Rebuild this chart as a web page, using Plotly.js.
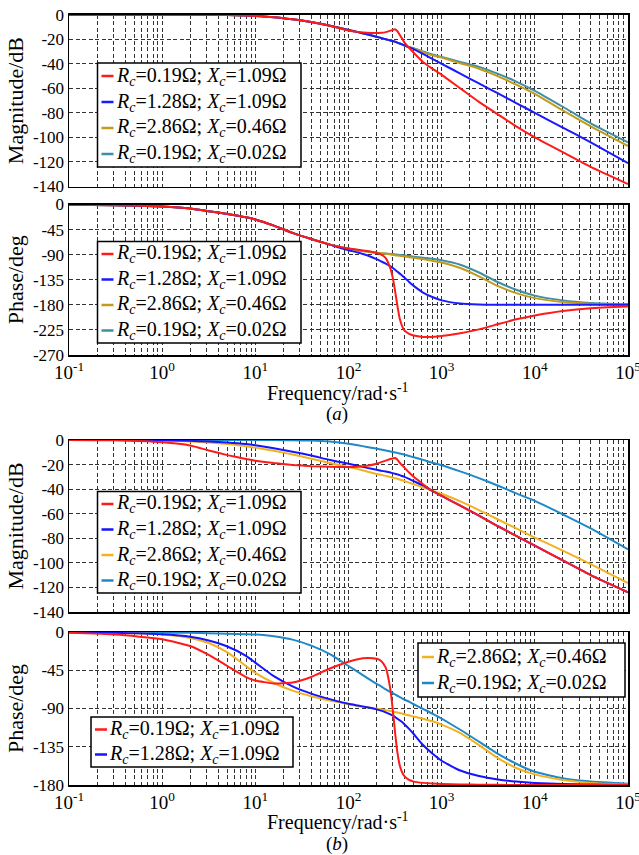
<!DOCTYPE html>
<html><head><meta charset="utf-8">
<script src="https://cdn.plot.ly/plotly-3.0.1.min.js"></script>
<style>html,body{margin:0;padding:0;background:#fff;} #chart{width:639px;height:855px;}</style>
</head><body><div id="chart"></div>
<script>
// ---------------- data ----------------
const freq = [0.1, 0.316, 1, 2.0, 3.16, 5.01, 7.94, 10, 15.8, 25.1, 39.8, 63.1, 100, 126, 158, 200, 224, 251, 282, 299, 316, 335, 355, 376, 398, 447, 501, 631, 794, 1000, 1585, 2512, 3981, 6310, 10000, 19953, 39811, 100000];

// (a) magnitude, dB
const magA_red  = [0,0,0,0,-0.1,-0.3,-0.7,-1,-2,-3.8,-6,-9,-12.8,-14,-14.8,-15,-14.8,-14.2,-13,-12.3,-11.8,-13.5,-16.5,-19.5,-22.5,-27,-31,-38.5,-44,-49,-60,-71,-81,-91,-100,-112,-124,-138];
const magA_blue = [0,0,0,0,-0.1,-0.3,-0.7,-1,-2,-3.8,-6,-9,-12.5,-14.2,-16,-18,-19,-20,-21,-21.5,-22,-22.7,-23.5,-24.2,-25,-26.5,-28,-32,-36,-40,-48,-56,-64,-72,-80,-92,-104,-121];
const magA_gold = [0,0,0,0,-0.1,-0.3,-0.7,-1,-2,-3.8,-6,-9,-12.5,-14.2,-16,-18,-19,-20,-21,-21.5,-22,-22.7,-23.5,-24.2,-25,-26.5,-27.5,-30.5,-33,-35,-39.5,-44,-50,-57,-64.5,-78,-91,-107];
const magA_teal = [0,0,0,0,-0.1,-0.3,-0.7,-1,-2,-3.8,-6,-9,-12.5,-14.2,-16,-18,-19,-20,-21,-21.5,-22,-22.7,-23.5,-24.2,-25,-26.5,-27.3,-30,-32.5,-34.5,-38.5,-42.5,-48,-54.5,-62,-75,-88.5,-104];

// (a) phase, deg
const phA_red  = [-0.5,-1.5,-3.6,-7,-12,-17,-23,-27,-38,-51,-62,-72,-79,-81,-83.5,-87,-90,-96,-115,-132,-155,-182,-205,-218,-226,-232,-235,-237.5,-237.5,-236,-231,-224,-215,-206,-199,-191,-186,-183];
const phA_blue = [-0.5,-1.5,-3.6,-7,-12,-17,-23,-27,-38,-51,-62,-72,-82,-86,-91,-98,-102,-106,-111,-114,-117,-120.5,-124,-127.5,-131,-139,-146,-158,-166,-172,-177.5,-179.3,-179.8,-180,-180,-180,-180,-180];
const phA_gold = [-0.5,-1.5,-3.6,-7,-12,-17,-23,-27,-38,-51,-62,-72,-79,-82,-84.5,-86.5,-87.5,-88.5,-89.5,-90,-91,-91.5,-92,-92.5,-93,-94.5,-95.5,-98,-101,-104,-114,-129,-146,-159,-168,-175,-178,-180];
const phA_teal = [-0.5,-1.5,-3.6,-7,-12,-17,-23,-27,-38,-51,-62,-72,-79,-82,-84.5,-86.5,-87.5,-88,-88.7,-89,-89.5,-90,-90.5,-91,-91.5,-92.5,-93.5,-95.5,-97.5,-100,-108,-122,-139,-153,-163.5,-172,-176.5,-179];

// (b) magnitude, dB
const magB_red  = [0,-0.3,-1.9,-4.5,-8.5,-12.3,-15.5,-16.8,-18.8,-20.3,-21.3,-21.8,-22,-21.8,-21,-19.3,-18,-16.8,-15.5,-15,-14.6,-16,-18.5,-20.5,-22.5,-26.5,-30,-36,-41.5,-45.5,-53.5,-61.5,-70,-78,-86,-98,-110,-124];
const magB_blue = [0,0,-0.3,-0.7,-1.2,-2,-3.3,-4.3,-6.8,-9.5,-12.6,-16.3,-19.3,-21,-22.7,-24.2,-25,-25.7,-26.5,-27,-27.4,-28,-28.6,-29.3,-30,-31.7,-33.5,-37,-41.5,-45.5,-53.5,-61.5,-70,-78,-86,-98,-110,-124];
const magB_gold = [0,0,-0.5,-1.2,-2,-3.3,-5,-6.2,-8.8,-11.8,-15.2,-18.7,-22,-23.7,-25.6,-27.6,-28.4,-29.2,-30.1,-30.6,-31.1,-31.6,-32.2,-32.8,-33.4,-34.7,-36,-38.7,-41.3,-43.8,-50,-57,-64.5,-72,-79.5,-90,-101,-116.5];
const magB_teal = [0,0,0,0,0,0,0,0,-0.1,-0.2,-0.5,-1.3,-3,-4.3,-5.7,-7,-7.8,-8.5,-9.3,-9.7,-10.1,-10.5,-11,-11.4,-11.9,-13,-14,-16.2,-18.5,-20.5,-25.5,-31,-37,-43.5,-49.5,-60.5,-72,-89];

// (b) phase, deg
const phB_red  = [-1,-3,-8.5,-16.5,-27,-40,-53,-57,-60.5,-59.5,-53,-43,-35,-32,-30.5,-31.5,-34,-42,-68,-92,-118,-142,-157,-165,-169.5,-174,-176,-177.5,-178.3,-178.8,-179.3,-179.6,-179.8,-180,-180,-180,-180,-180];
const phB_blue = [-0.3,-1,-2.7,-5.5,-10,-17,-28,-36,-52,-64,-72.5,-79,-84.5,-86.5,-88.5,-91,-92.5,-94.5,-97,-98.5,-100,-102,-104,-106,-108.5,-114,-120,-133,-143,-151.5,-163,-169.5,-173.5,-176,-177.5,-178.8,-179.5,-180];
const phB_gold = [-0.3,-1,-3,-7,-13,-24,-40,-48,-60,-69,-75.5,-80.5,-85,-87,-88.5,-90,-91,-92,-93,-93.5,-94,-94.7,-95.3,-96,-96.7,-98,-99.5,-102,-105,-109,-119,-133,-148,-160,-167.5,-174,-177.5,-179.5];
const phB_teal = [0,-0.2,-0.6,-1,-1.5,-2,-2.6,-3,-5,-9,-16,-26,-40,-47,-54,-61,-64,-67.5,-70.5,-72,-73.5,-75,-76.5,-78,-79.5,-82,-85,-90.5,-96,-102,-115,-129,-143,-155,-164.5,-172,-176,-178.5];

const caseLabels = [
  '<i>R<sub>c</sub></i>=0.19Ω; <i>X<sub>c</sub></i>=1.09Ω',
  '<i>R<sub>c</sub></i>=1.28Ω; <i>X<sub>c</sub></i>=1.09Ω',
  '<i>R<sub>c</sub></i>=2.86Ω; <i>X<sub>c</sub></i>=0.46Ω',
  '<i>R<sub>c</sub></i>=0.19Ω; <i>X<sub>c</sub></i>=0.02Ω'
];
const magTickVals = [0,-20,-40,-60,-80,-100,-120,-140];
const magTickText = ['0','-20','-40','-60','-80','-100','-120','-140'];
const phATickVals = [0,-45,-90,-135,-180,-225,-270];
const phATickText = ['0','-45','-90','-135','-180','-225','-270'];
const phBTickVals = [0,-45,-90,-135,-180];
const phBTickText = ['0','-45','-90','-135','-180'];
const freqTickVals = [0.1,1,10,100,1000,10000,100000];
const freqTickText = ['10<sup>-1</sup>','10<sup>0</sup>','10<sup>1</sup>','10<sup>2</sup>','10<sup>3</sup>','10<sup>4</sup>','10<sup>5</sup>'];
const freqTitle = 'Frequency/rad·s<sup>-1</sup>';

// ---------------- styling ----------------
const colA = ['#ff1a1a','#1a1aff','#c49a1c','#3f8fa3'];
const colB = ['#ff1a1a','#1414ff','#f2b11f','#1f88c8'];
const W = 639, H = 855;
const px = x => x / W;
const py = y => 1 - y / H;
const FONT = 'Liberation Serif';
const GRID = '#333333';
const DASH = '4px,2.5px';

const minorVals = [];
for (let d = -1; d < 5; d++) for (let m = 2; m <= 9; m++) minorVals.push(m * Math.pow(10, d));

function xax(anchor, showLabels) {
  return {
    type: 'log', range: [-1, 5], domain: [px(69), px(628)], anchor: anchor,
    showline: true, mirror: true, linecolor: '#000', linewidth: 1.5,
    ticks: '', zeroline: false,
    tickmode: 'array', tickvals: freqTickVals, ticktext: freqTickText,
    showticklabels: showLabels, ticklabeloverflow: 'allow',
    tickfont: {size: 19, color: '#000', family: FONT},
    showgrid: true, gridcolor: GRID, griddash: DASH, gridwidth: 1,
    minor: {tickmode: 'array', tickvals: minorVals, showgrid: true, gridcolor: GRID, griddash: DASH, gridwidth: 1, ticks: ''}
  };
}
function yax(dom, anchor, range, vals, text, title) {
  return {
    domain: dom, anchor: anchor, range: range,
    showline: true, mirror: true, linecolor: '#000', linewidth: 1.5,
    ticks: '', zeroline: false,
    tickmode: 'array', tickvals: vals, ticktext: text,
    tickfont: {size: 17, color: '#000', family: FONT},
    showgrid: true, gridcolor: GRID, griddash: DASH, gridwidth: 1,
    title: {text: title, font: {size: 22, color: '#000', family: FONT}, standoff: 3}
  };
}

const traces = [];
function addSet(xa, ya, series, cols) {
  // draw order: teal, gold, blue, red (red on top)
  [3, 2, 1, 0].forEach(i => {
    traces.push({
      x: freq, y: series[i], xaxis: xa, yaxis: ya, type: 'scatter', mode: 'lines',
      name: caseLabels[i], showlegend: false,
      line: {color: cols[i], width: 2, shape: 'spline', smoothing: 0.5},
      hoverinfo: 'skip'
    });
  });
}
addSet('x',  'y',  [magA_red, magA_blue, magA_gold, magA_teal], colA);
addSet('x2', 'y2', [phA_red, phA_blue, phA_gold, phA_teal], colA);
addSet('x3', 'y3', [magB_red, magB_blue, magB_gold, magB_teal], colB);
addSet('x4', 'y4', [phB_red, phB_blue, phB_gold, phB_teal], colB);

// ---------------- legends (boxes drawn in page pixels) ----------------
const shapes = [], annotations = [];
function legend(x0, y0, x1, y1, rows, idxs, cols) {
  shapes.push({type: 'rect', xref: 'paper', yref: 'paper', x0: px(x0), x1: px(x1), y0: py(y1), y1: py(y0),
    fillcolor: '#fff', line: {color: '#000', width: 1.5}, layer: 'above'});
  idxs.forEach((k, j) => {
    const yy = rows[j];
    shapes.push({type: 'line', xref: 'paper', yref: 'paper', x0: px(x0 + 4), x1: px(x0 + 16), y0: py(yy), y1: py(yy),
      line: {color: cols[k], width: 2.5}, layer: 'above'});
    annotations.push({xref: 'paper', yref: 'paper', x: px(x0 + 16), y: py(yy), xanchor: 'left', yanchor: 'middle',
      text: caseLabels[k], showarrow: false, font: {size: 20, color: '#000', family: FONT}});
  });
}
legend(97.5, 63, 301, 167, [76, 102, 128, 154], [0, 1, 2, 3], colA);
legend(97.5, 241.5, 301, 343, [254, 279.5, 305, 330.5], [0, 1, 2, 3], colA);
legend(97.5, 491.5, 301, 593, [504, 529.5, 555, 580.5], [0, 1, 2, 3], colB);
legend(91, 717, 293, 767, [729.5, 754.5], [0, 1], colB);
legend(418, 643, 625, 697, [657, 683], [2, 3], colB);

// x-axis titles and panel labels
function note(x, y, text, size) {
  annotations.push({xref: 'paper', yref: 'paper', x: px(x), y: py(y), text: text, showarrow: false,
    xanchor: 'center', yanchor: 'middle', font: {size: size, color: '#000', family: FONT}});
}
note(338, 392, freqTitle, 20);
note(337, 414, '(<i>a</i>)', 19);
note(338, 821, freqTitle, 20);
note(337, 843.5, '(<i>b</i>)', 19);

const layout = {
  width: W, height: H, margin: {l: 0, r: 0, t: 0, b: 0},
  paper_bgcolor: '#fff', plot_bgcolor: '#fff',
  font: {family: FONT, color: '#000'},
  showlegend: false,
  xaxis:  xax('y',  false),
  xaxis2: xax('y2', true),
  xaxis3: xax('y3', false),
  xaxis4: xax('y4', true),
  yaxis:  yax([py(186.5), py(14.7)], 'x',  [-140, 0], magTickVals, magTickText, 'Magnitude/dB'),
  yaxis2: yax([py(355), py(204.5)],  'x2', [-270, 0], phATickVals, phATickText, 'Phase/deg'),
  yaxis3: yax([py(612), py(440)],    'x3', [-140, 0], magTickVals, magTickText, 'Magnitude/dB'),
  yaxis4: yax([py(785), py(632)],    'x4', [-180, 0], phBTickVals, phBTickText, 'Phase/deg'),
  shapes: shapes, annotations: annotations
};

Plotly.newPlot('chart', traces, layout, {staticPlot: true, displayModeBar: false});
</script>
</body></html>
